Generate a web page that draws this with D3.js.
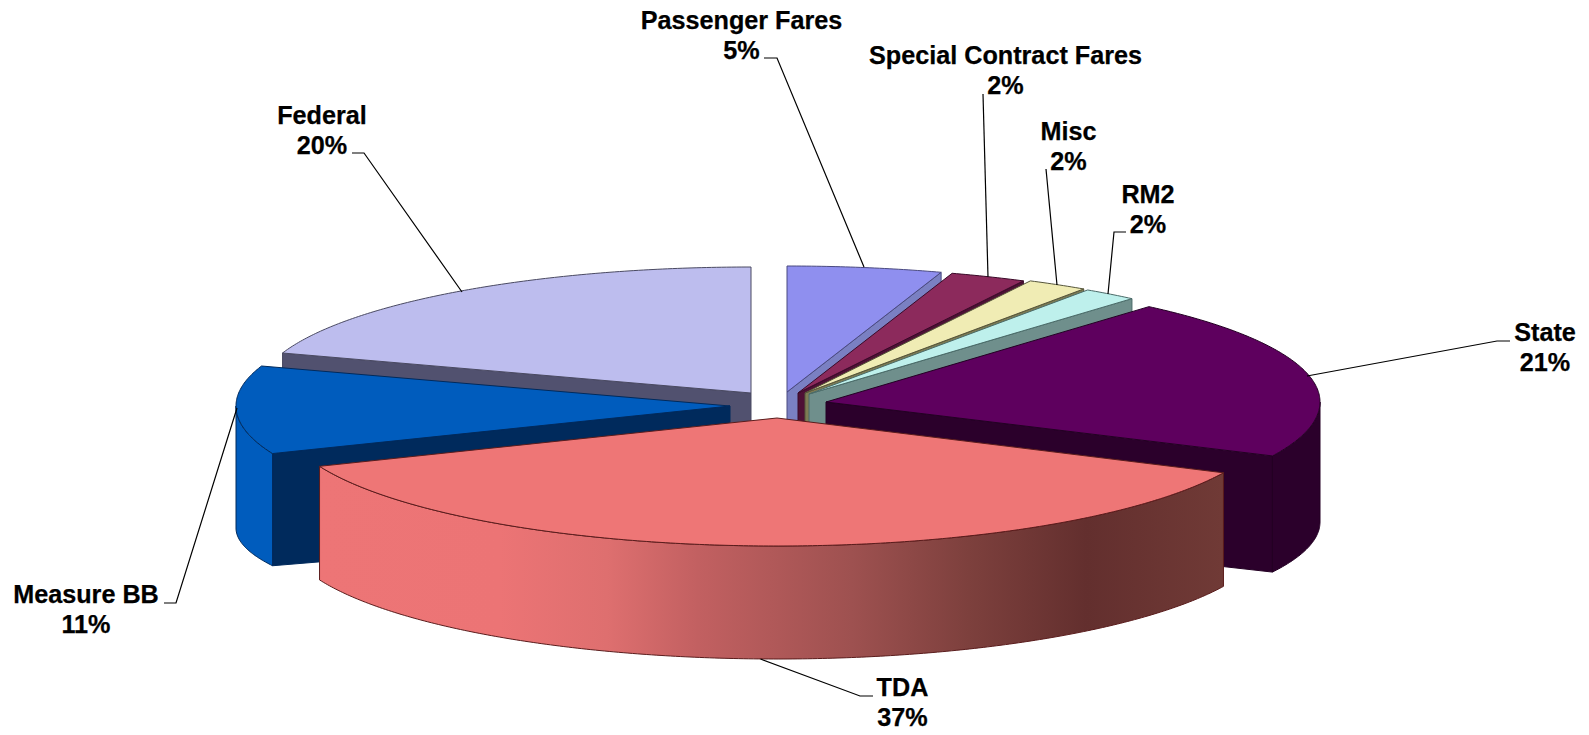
<!DOCTYPE html>
<html>
<head>
<meta charset="utf-8">
<style>html,body{margin:0;padding:0;background:#fff}svg{display:block}text{font-family:"Liberation Sans",Arial,sans-serif;font-weight:700;fill:#000;stroke:#000;stroke-width:.25px}</style>
<script src="https://cdn.jsdelivr.net/npm/d3@7"></script>
</head>
<body>
<script>
// ---- data ----
const categories = ["Passenger Fares","Special Contract Fares","Misc","RM2","State","TDA","Measure BB","Federal"];
const values     = [5.05, 2.49, 2.0, 1.8, 20.7, 36.8, 11.3, 19.86];
const percentLabels = ["5%","2%","2%","2%","21%","37%","11%","20%"];

// ---- styles ----
const topColors  = ["#8F8FEF","#8C2A5C","#F0ECB4","#BEF0EC","#5E005E","#EE7676","#005CBD","#BDBDEE"];
const edgeColors = ["#7A80C2","#4E1035","#7E7C54","#6F8F8C","#2B002B","#EE7676","#002A5C","#51516F"];
const arcColors  = ["#7A80C2","#4E1035","#7E7C54","#6F8F8C","#2B002B","url(#tdaWall)","#005CBD","#51516F"];
const strokeColors = ["#4A4A80","#3A0A28","#55553A","#4A6A68","#240024","#5A1C1C","#002A5C","#4A4A62"];
const tdaStops = [[0,"#ED7576"],[.2,"#EC7475"],[.32,"#DE6F6F"],[.42,"#C26061"],[.59,"#9E5150"],[.72,"#7D403D"],[.85,"#632F2E"],[1,"#703A36"]];

// ---- layout (exploded apex of each wedge, wall height, ellipse heights, paint order) ----
const apexX = [787, 798, 805, 809, 826, 777, 730, 751];
const apexY = [392, 393, 393, 394, 402, 418, 406, 393];
const wallH = [116, 116, 116, 116, 120, 114, 122, 116];
const topRY = [126, 126, 126, 126, 126, 128, 126, 126];
const baseRY = [126, 126, 126, 126, 117, 127, 100, 126];
const paintOrder = [7, 0, 1, 2, 3, 6, 4, 5];
const RX = 494;
const labelX  = [741.5, 1005.5, 1068.5, 1148, 1545, 902.5, 86, 322];
const labelY1 = [29, 64, 140, 203, 341, 696, 603, 124];
const lineGap = 29.5;
const leaders = [
  [[764,58],[777,58],[864,267]],
  [[983,94],[988,277]],
  [[1046,169],[1057,285]],
  [[1126,232],[1114,232],[1108,294]],
  [[1510,341],[1497,341],[1307,376]],
  [[873,696],[860,696],[760.5,659]],
  [[164,603],[176,603],[237,408]],
  [[352,153],[364,153],[462,292]]
];

const W = 1589, H = 735;
const svg = d3.select("body").append("svg").attr("width", W).attr("height", H);

const grad = svg.append("defs").append("linearGradient")
  .attr("id","tdaWall").attr("gradientUnits","userSpaceOnUse")
  .attr("x1",318).attr("x2",1222).attr("y1",0).attr("y2",0);
grad.selectAll("stop").data(tdaStops).join("stop")
  .attr("offset", d => d[0]).attr("stop-color", d => d[1]);

const sx = d3.scaleLinear().domain([-1,1]).range([-RX,RX]);
const sy = ry => d3.scaleLinear().domain([-1,1]).range([-ry,ry]);
const pie = d3.pie().sort(null).startAngle(0).endAngle(2*Math.PI);
const arcs = pie(values);
const line = d3.line();

function rimTop(i, a){
  return [apexX[i] + sx(Math.sin(a)), apexY[i] + sy(topRY[i])(-Math.cos(a))];
}
function rimBase(i, a){
  return [apexX[i] + sx(Math.sin(a)), apexY[i] + wallH[i] + sy(baseRY[i])(-Math.cos(a))];
}
function sweep(fn, i, a0, a1){
  const n = Math.max(2, Math.ceil(Math.abs(a1-a0) / 0.01));
  return d3.range(n+1).map(k => fn(i, a0 + (a1-a0)*k/n));
}
const PI = Math.PI;

paintOrder.forEach(i => {
  const a0 = arcs[i].startAngle, a1 = arcs[i].endAngle;
  const g = svg.append("g").attr("class","slice").attr("data-name",categories[i]);
  const apex = [apexX[i], apexY[i]];
  const apexB = [apexX[i], apexY[i]+wallH[i]];

  // straight cut wall, if it faces the viewer
  [[a1, Math.sin(a1) > 1e-6],[a0, Math.sin(a0) < -1e-6]].forEach(([a,vis]) => {
    if(!vis) return;
    g.append("path")
      .attr("d", line([apex, rimTop(i,a), rimBase(i,a), apexB]) + "Z")
      .attr("fill", edgeColors[i])
      .attr("stroke", strokeColors[i]).attr("stroke-width",1).attr("stroke-linejoin","round");
  });
  // outer curved wall, front half only
  const v0 = Math.max(a0, PI/2), v1 = Math.min(a1, 3*PI/2);
  if(v1 > v0){
    const pts = sweep(rimTop,i,v0,v1).concat(sweep(rimBase,i,v1,v0));
    g.append("path").attr("d", line(pts)+"Z")
      .attr("fill", arcColors[i])
      .attr("stroke", strokeColors[i]).attr("stroke-width",1).attr("stroke-linejoin","round");
  }
  // top face
  g.append("path")
    .attr("d", line([apex].concat(sweep(rimTop,i,a0,a1)))+"Z")
    .attr("fill", topColors[i])
    .attr("stroke", strokeColors[i]).attr("stroke-width",1).attr("stroke-linejoin","round");
});

// leader lines
svg.append("g").selectAll("path").data(leaders).join("path")
  .attr("d", d => line(d))
  .attr("fill","none").attr("stroke","#000").attr("stroke-width",1.2);

// labels
const lab = svg.append("g").selectAll("text").data(categories).join("text")
  .attr("text-anchor","middle").attr("font-size",25.2);
lab.append("tspan").attr("x",(d,i)=>labelX[i]).attr("y",(d,i)=>labelY1[i]).text(d=>d);
lab.append("tspan").attr("x",(d,i)=>labelX[i]).attr("y",(d,i)=>labelY1[i]+lineGap).text((d,i)=>percentLabels[i]);
</script>
</body>
</html>
